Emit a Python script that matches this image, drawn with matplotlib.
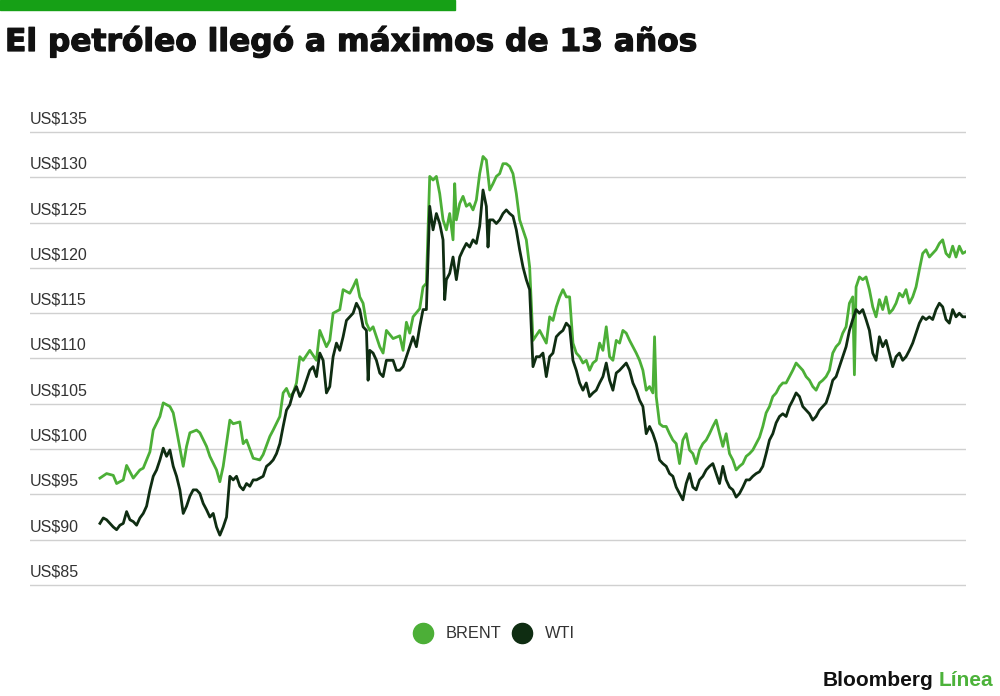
import matplotlib
matplotlib.use('Agg')
import matplotlib.pyplot as plt
import matplotlib.patheffects as pe
from matplotlib.lines import Line2D
from matplotlib.patches import Rectangle
from matplotlib.transforms import ScaledTranslation

# trading-day index and prices
brent_day = [6, 8, 10, 11, 13, 14, 16, 18, 19, 21, 22, 24, 25, 27, 28, 29, 31, 32, 33, 35,
             36, 38, 39, 41, 42, 43, 45, 46, 48, 49, 50, 52, 54, 55, 57, 58, 60, 61, 62, 63,
             64, 65, 66, 67, 69, 71, 72, 74, 75, 76, 78, 79, 81, 82, 83, 84, 85, 86, 87, 88,
             90, 91, 92, 94, 96, 97, 98, 99, 100, 102, 103, 104, 105, 106, 107, 108, 109, 110, 111, 112,
             112.5, 113, 114, 115, 116, 117, 118, 119, 120, 121, 122, 123, 124, 125, 126, 127, 128, 129, 130, 131,
             132, 133, 134, 135, 136, 138, 139, 140, 141, 142, 143, 144, 145, 146, 147, 148, 149, 150, 151, 152,
             153, 154, 155, 156, 157, 158, 159, 160, 161, 162, 163, 164, 165, 166, 167, 168, 169, 170, 171, 172,
             172.5, 173, 174, 175, 176, 177, 178, 179, 180, 181, 182, 183, 184, 185, 186, 187, 188, 189, 190, 191,
             192, 193, 194, 195, 196, 197, 198, 199, 200, 201, 202, 203, 204, 205, 206, 207, 208, 209, 210, 211,
             212, 213, 214, 215, 216, 217, 218, 219, 220, 221, 222, 223, 224, 225, 226, 227, 228, 229, 230, 231,
             232, 232.5, 233, 234, 235, 236, 237, 238, 239, 240, 241, 242, 243, 244, 245, 246, 247, 248, 249, 250,
             251, 252, 253, 254, 255, 256, 257, 258, 259, 260, 261, 262, 263, 264, 265, 266]
brent = [96.8, 97.3, 97.1, 96.2, 96.6, 98.2, 96.8, 97.7, 97.9, 99.7, 102.1, 103.6, 105.1, 104.7, 104.0, 102.1, 98.1, 100.3, 101.8, 102.1,
         101.8, 100.3, 99.2, 97.7, 96.4, 98.1, 103.2, 102.8, 103.0, 100.6, 101.0, 99.0, 98.8, 99.4, 101.4, 102.1, 103.6, 106.2, 106.7, 105.8,
         106.2, 107.3, 110.2, 109.8, 110.9, 109.8, 113.1, 111.3, 112.0, 115.0, 115.4, 117.6, 117.2, 117.9, 118.7, 116.8, 116.1, 113.9, 113.1, 113.5,
         111.3, 110.6, 113.1, 112.2, 112.5, 110.9, 114.0, 112.8, 114.6, 115.5, 117.9, 118.3, 130.1, 129.7, 130.1, 128.2, 125.3, 124.2, 126.0, 123.1,
         129.3, 125.3, 127.1, 127.9, 126.8, 127.1, 126.4, 127.5, 130.4, 132.3, 131.9, 128.6, 129.3, 130.1, 130.4, 131.5, 131.5, 131.2, 130.4, 128.2,
         125.3, 124.2, 123.1, 120.1, 112.0, 113.1, 112.4, 111.7, 114.6, 114.2, 115.7, 116.8, 117.6, 116.8, 116.8, 111.7, 110.6, 110.2, 109.5, 109.8,
         108.7, 109.5, 109.8, 111.7, 110.9, 113.5, 110.2, 109.8, 112.0, 111.7, 113.1, 112.8, 112.0, 111.3, 110.6, 109.8, 108.7, 106.5, 106.9, 106.2,
         112.4, 105.8, 102.8, 102.5, 102.5, 101.7, 101.0, 100.6, 98.4, 101.0, 101.7, 99.9, 99.5, 98.4, 99.9, 100.6, 101.0, 101.7, 102.5, 103.2,
         101.7, 100.3, 101.7, 99.5, 98.8, 97.7, 98.1, 98.4, 99.2, 99.5, 99.9, 100.6, 101.3, 102.5, 104.0, 104.7, 105.8, 106.2, 106.9, 107.3,
         107.3, 108.0, 108.7, 109.5, 109.1, 108.7, 108.0, 107.6, 106.9, 106.5, 107.3, 107.6, 108.0, 108.7, 110.6, 111.3, 111.7, 112.8, 113.5, 116.1,
         116.8, 108.2, 117.9, 119.0, 118.7, 119.0, 117.6, 115.7, 114.6, 116.5, 115.4, 116.8, 115.0, 115.4, 116.1, 117.2, 116.8, 117.6, 116.1, 116.8,
         117.9, 119.8, 121.6, 122.0, 121.2, 121.6, 122.0, 122.7, 123.1, 121.6, 121.2, 122.4, 121.2, 122.4, 121.6, 121.8]

wti_day = [6, 7, 8, 10, 11, 12, 13, 14, 15, 16, 17, 18, 19, 20, 21, 22, 23, 24, 25, 26,
           27, 28, 29, 30, 31, 32, 33, 34, 35, 36, 37, 38, 39, 40, 41, 42, 43, 44, 45, 46,
           47, 48, 49, 50, 51, 52, 53, 54, 55, 56, 57, 58, 59, 60, 61, 62, 63, 64, 65, 66,
           67, 68, 69, 70, 71, 72, 73, 74, 75, 76, 77, 78, 79, 80, 81, 82, 83, 84, 85, 86,
           86.5, 87, 88, 89, 90, 91, 92, 93, 94, 95, 96, 97, 98, 99, 100, 101, 102, 103, 104, 105,
           106, 107, 108, 109, 109.5, 110, 111, 112, 113, 114, 115, 116, 117, 118, 119, 120, 121, 122, 122.5, 123,
           124, 125, 126, 127, 128, 129, 130, 131, 132, 133, 134, 135, 136, 137, 138, 139, 140, 141, 142, 143,
           144, 145, 146, 147, 148, 149, 150, 151, 152, 153, 154, 155, 156, 157, 158, 159, 160, 161, 162, 163,
           164, 165, 166, 167, 168, 169, 170, 171, 172, 173, 174, 175, 176, 177, 178, 179, 180, 181, 182, 183,
           184, 185, 186, 187, 188, 189, 190, 191, 192, 193, 194, 195, 196, 197, 198, 199, 200, 201, 202, 203,
           204, 205, 206, 207, 208, 209, 210, 211, 212, 213, 214, 215, 216, 217, 218, 219, 220, 221, 222, 223,
           224, 225, 226, 227, 228, 229, 230, 231, 232, 233, 234, 235, 236, 237, 238, 239, 240, 241, 242, 243,
           244, 245, 246, 247, 248, 249, 250, 251, 252, 253, 254, 255, 256, 257, 258, 259, 260, 261, 262, 263,
           264, 265, 266]
wti = [91.8, 92.4, 92.2, 91.4, 91.1, 91.6, 91.8, 93.1, 92.2, 92.0, 91.6, 92.4, 92.9, 93.7, 95.5, 97.0, 97.7, 98.8, 100.1, 99.2,
       99.9, 98.1, 97.0, 95.5, 92.9, 93.7, 94.8, 95.5, 95.5, 95.1, 94.0, 93.3, 92.5, 92.9, 91.4, 90.5, 91.4, 92.5, 97.0, 96.6,
       97.0, 95.9, 95.5, 96.2, 95.9, 96.6, 96.6, 96.8, 97.0, 98.1, 98.4, 98.8, 99.5, 100.6, 102.5, 104.3, 104.9, 106.2, 106.9, 105.8,
       106.5, 107.6, 108.7, 109.1, 108.0, 110.6, 109.8, 106.2, 106.9, 110.2, 111.7, 110.9, 112.4, 114.2, 114.6, 115.0, 116.1, 115.4, 113.5, 113.1,
       107.6, 110.9, 110.6, 109.8, 108.4, 108.0, 109.8, 109.8, 109.8, 108.7, 108.7, 109.1, 110.2, 111.3, 112.4, 111.3, 113.5, 115.4, 115.4, 126.8,
       124.2, 126.0, 124.9, 123.1, 116.5, 118.7, 119.4, 121.2, 118.7, 121.2, 122.0, 122.7, 122.3, 123.1, 122.7, 124.6, 128.6, 126.8, 122.3, 125.3,
       125.3, 124.9, 125.3, 126.0, 126.4, 126.0, 125.7, 124.2, 122.0, 120.1, 118.7, 117.6, 109.1, 110.2, 110.2, 110.6, 108.0, 110.2, 110.6, 112.4,
       112.8, 113.1, 113.9, 113.5, 109.8, 108.7, 107.3, 106.5, 107.3, 105.8, 106.2, 106.5, 107.3, 108.0, 109.5, 107.6, 106.5, 108.4, 108.7, 109.1,
       109.5, 108.7, 107.3, 106.5, 105.4, 104.7, 101.7, 102.5, 101.7, 100.6, 98.8, 98.4, 98.1, 97.3, 97.0, 95.8, 95.1, 94.4, 96.2, 97.3,
       95.8, 95.5, 96.6, 97.0, 97.7, 98.1, 98.4, 97.3, 96.2, 98.1, 96.6, 95.8, 95.5, 94.7, 95.1, 95.8, 96.6, 96.6, 97.0, 97.3,
       97.5, 98.1, 99.5, 101.0, 101.7, 102.9, 103.6, 103.9, 103.6, 104.7, 105.4, 106.2, 105.8, 104.7, 104.3, 103.9, 103.2, 103.6, 104.3, 104.7,
       105.1, 106.2, 107.6, 108.0, 109.1, 110.2, 111.3, 113.1, 114.3, 115.4, 115.0, 115.4, 114.3, 113.1, 110.6, 109.8, 112.4, 111.3, 112.0, 110.6,
       109.1, 110.2, 110.6, 109.8, 110.2, 110.9, 111.7, 112.8, 113.9, 114.6, 114.3, 114.6, 114.3, 115.4, 116.1, 115.7, 114.3, 113.9, 115.4, 114.6,
       115.0, 114.6, 114.6]

y_ticks = [85, 90, 95, 100, 105, 110, 115, 120, 125, 130, 135]
y_labels = [f'US${v}' for v in y_ticks]

brent_color = '#4caf37'
wti_color = '#0f2d12'
grid_color = '#d0d0d0'
text_color = '#333333'
font = 'Liberation Sans'

W, H = 1000, 696
fig = plt.figure(figsize=(W / 100, H / 100), dpi=100)
fig.patch.set_facecolor('white')

# plot area: gridlines span x 30..966, US$135 at y=132, US$85 at y=585 (pixels)
pad = 0.2
px_per_usd = (585 - 132) / 50
top_px = 132 - pad * px_per_usd
bot_px = 585 + pad * px_per_usd
ax = fig.add_axes([30 / W, 1 - bot_px / H, (966 - 30) / W, (bot_px - top_px) / H])
ax.set_xlim(-15, 266)
ax.set_ylim(85 - pad, 135 + pad)

ax.plot(brent_day, brent, color=brent_color, lw=2.0, solid_joinstyle='round', zorder=3)
ax.plot(wti_day, wti, color=wti_color, lw=2.0, solid_joinstyle='round', zorder=4)

for s in ax.spines.values():
    s.set_visible(False)
ax.set_xticks([])
ax.set_yticks(y_ticks)
ax.set_yticklabels(y_labels)
ax.grid(axis='y', color=grid_color, lw=1)
ax.set_axisbelow(True)
ax.tick_params(axis='y', length=0, pad=0, labelsize=11.5, labelcolor=text_color)
for lab in ax.get_yticklabels():
    lab.set_horizontalalignment('left')
    lab.set_verticalalignment('bottom')
    lab.set_fontfamily(font)
    lab.set_transform(lab.get_transform() + ScaledTranslation(0, 4 / 72, fig.dpi_scale_trans))

# green bar on top
fig.patches.append(Rectangle((0, 1 - 10 / H), 455 / W, 10 / H, transform=fig.transFigure,
                             color='#16a016', zorder=5))

title = fig.text(5 / W, 1 - 51 / H, 'El petróleo llegó a máximos de 13 años',
                 fontsize=22, fontweight='bold', fontfamily='DejaVu Sans', color='#111111',
                 va='baseline',
                 path_effects=[pe.withStroke(linewidth=0.9, foreground='#111111')])
fig.canvas.draw()
tw = title.get_window_extent().width
title.set_fontsize(22 * 690 / tw)

handles = [
    Line2D([], [], ls='none', marker='o', ms=14.5, color=brent_color),
    Line2D([], [], ls='none', marker='o', ms=14.5, color=wti_color),
]
fig.legend(handles, ['BRENT', 'WTI'], loc='center', bbox_to_anchor=(0.494, 1 - 634 / H), ncol=2,
           frameon=False, handletextpad=0.75, columnspacing=0.7, handlelength=1.2,
           prop={'family': font, 'size': 11.8}, labelcolor=text_color)

# logo
t1 = fig.text(823 / W, 1 - 686 / H, 'Bloomberg', fontsize=15, fontweight='bold',
              fontfamily=font, color='#111111', va='baseline')
fig.canvas.draw()
bb = t1.get_window_extent()
fig.text((bb.x1 + 5) / W, 1 - 686 / H, 'Línea', fontsize=15, fontweight='bold',
         fontfamily=font, color='#4cb23a', va='baseline')

fig.savefig('out.png', dpi=100, facecolor='white')
